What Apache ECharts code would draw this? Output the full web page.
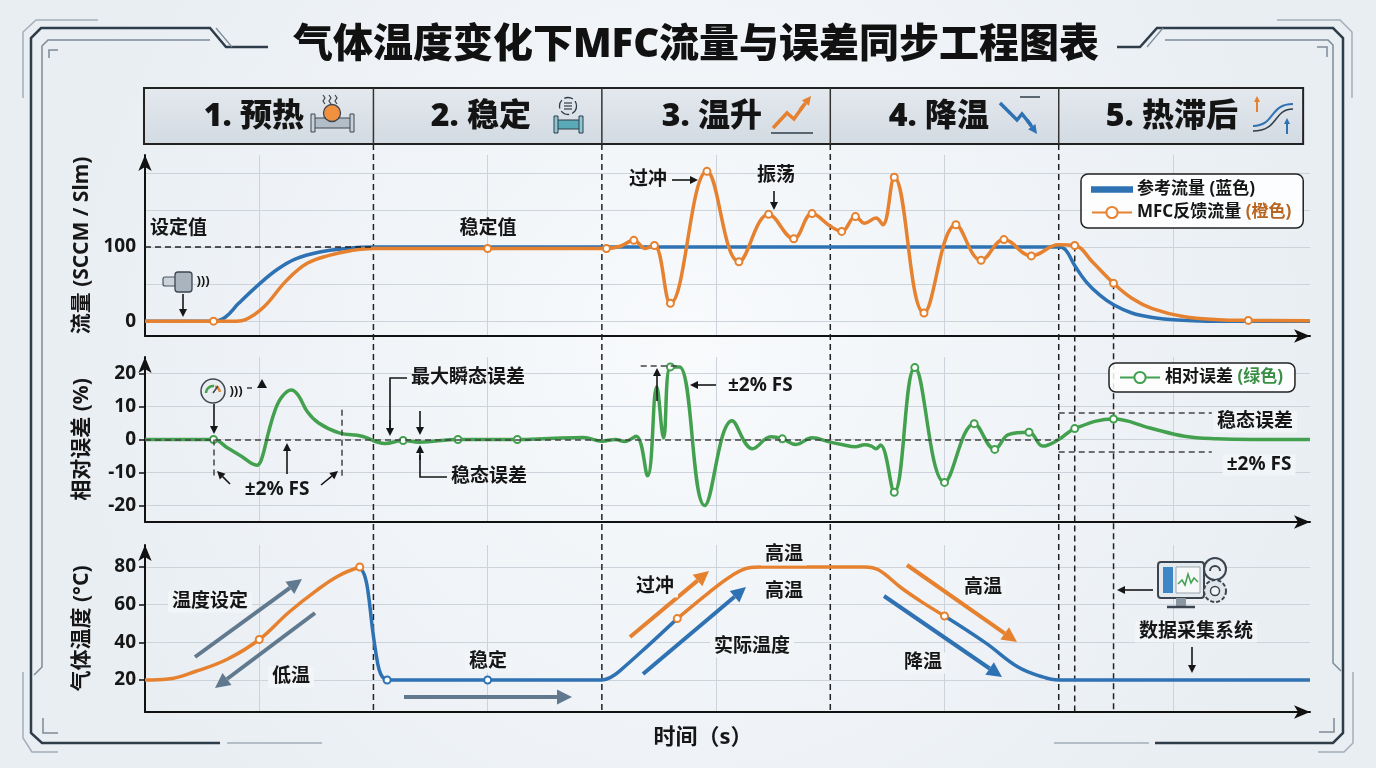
<!DOCTYPE html>
<html>
<head>
<meta charset="utf-8">
<title>气体温度变化下MFC流量与误差同步工程图表</title>
<script src="https://cdn.jsdelivr.net/npm/echarts@6/dist/echarts.min.js"></script>
<style>
  html, body { margin: 0; padding: 0; background: #f2f5f8; }
  #main { width: 1376px; height: 768px; }
</style>
</head>
<body>
<div id="main"></div>
<script>
// ---- data (time in s) ----
var phaseNames = ['1. 预热', '2. 稳定', '3. 温升', '4. 降温', '5. 热滞后'];
var phaseBounds = [100, 200, 300, 400];
var lagLines = [407, 424];
var timeGrid = [50, 150, 250, 350, 450];

var flowGridValues = [0, 50, 100, 150, 200];
var flowTickLabels = [0, 100];
var errTicks = [-20, -10, 0, 10, 20];
var tempTicks = [20, 40, 60, 80];

var refFlow = [[0, 0], [30, 0], [35, 5], [41, 24], [50, 50], [58, 70], [66, 84], [76, 93], [88, 98], [100, 100],
  [400, 100], [403, 96], [407, 75], [412, 53], [418, 35], [424, 22], [432, 11], [441, 5], [452, 1.5], [465, 0], [510, 0]];

var mfcFlow = [[0, 0], [30, 0], [40, 0], [44, 2], [52, 19], [62, 55], [71, 78], [81, 89], [90, 95], [100, 98],
  [150, 98], [202, 98], [208, 101], [214, 109], [219, 98], [223, 102], [230, 24], [246, 202], [260, 80],
  [273, 144], [284, 111], [292, 145], [300, 128], [305, 121], [311, 141], [315, 132], [320, 139], [323, 130],
  [328, 194], [341, 11], [355, 130], [366, 82], [376, 110], [388, 88], [400, 103], [407, 102], [415, 79],
  [424, 51], [432, 31], [441, 17], [455, 6], [470, 2], [483, 1], [510, 0.5]];
var mfcMarks = [30, 150, 202, 214, 223, 230, 246, 260, 273, 284, 292, 305, 311, 328, 341, 355, 366, 376, 388, 407, 424, 483];

var relError = [[0, 0], [30, 0], [36, -2.5], [42, -5], [49, -7.8], [51, -6], [54, 2], [57, 9], [60, 13], [64, 15],
  [67, 13.5], [71, 8.5], [76, 5], [85, 2], [95, 1], [105, -1.2], [113, -0.3], [120, -0.8], [137, 0], [163, 0],
  [177, 0.3], [192, 0.6], [200, -0.5], [206, 0], [210, -0.6], [215, 1], [220, -11], [224, 16], [227, 0.5],
  [230, 22], [234, 22], [245, -20], [257, 5.7], [266, -2.8], [274, 0.8], [279, 0.2], [285, -1.5], [292, 0.5],
  [300, -0.8], [305, -1.5], [311, -2.2], [315, -1.6], [318, -2], [320, -2.8], [322, -1.7], [328, -16],
  [337, 21.8], [350, -13], [363, 4.8], [372, -3], [378, 1.5], [387, 2.2], [393, -2], [400, 0], [407, 3.3],
  [424, 6.2], [440, 3.5], [455, 1], [469, 0.2], [485, 0], [510, 0]];
var errMarks = [30, 113, 137, 163, 230, 279, 328, 337, 350, 363, 372, 387, 407, 424];

var tempHeat1 = [[0, 20], [10, 20.5], [22, 24.5], [36, 31], [50, 41.5], [63, 56], [75, 67.5], [85, 75.5], [94, 80]];
var tempHold = [[94, 80], [96, 76], [97.5, 68], [99.6, 47], [101, 35], [102.5, 25.4], [104, 21.5], [106, 20],
  [150, 20], [200, 20], [204, 21.5], [208, 25], [220, 38], [233, 52.6]];
var tempHeat2 = [[233, 52.6], [247, 66.6], [257, 75.5], [264, 79.5], [270, 80], [315, 80], [321, 78.5], [331, 69],
  [340, 61.5], [350, 54]];
var tempCool = [[350, 54], [368, 39.7], [382, 27], [392, 22], [400, 20], [510, 20]];
var heat1Marks = [50, 94], holdMarks = [106, 150], heat2Marks = [233, 350];

// ---- styles ----
var FONT = '"Noto Sans", "Noto Sans CJK SC", sans-serif';
var BLUE = '#2f72b3', ORANGE = '#e5812f', GREEN = '#43a04f', SLATE = '#61798f', INK = '#161616';
var GRIDC = '#cdd3da', BG = '#f2f5f8';

var chart = echarts.init(document.getElementById('main'));

function withMarks(points, marks) {
  return points.map(function (p) {
    return { value: p, symbol: marks.indexOf(p[0]) >= 0 ? 'circle' : 'none' };
  });
}

function lineSeries(name, grid, points, color, marks) {
  return {
    name: name, type: 'line', xAxisIndex: grid, yAxisIndex: grid,
    data: marks ? withMarks(points, marks) : points,
    smooth: 0.4, showSymbol: true,
    symbol: marks ? 'circle' : 'none', symbolSize: 7,
    color: color,
    lineStyle: { color: color, width: 3.5 },
    itemStyle: { color: '#fff', borderColor: color, borderWidth: 2 },
    emphasis: { disabled: true },
    z: 3
  };
}

function dashed(pairs, color) {
  return {
    silent: true, symbol: ['none', 'none'], label: { show: false },
    lineStyle: { type: [6, 4], color: color || '#333', width: 1.5 },
    data: pairs.map(function (p) { return [{ coord: p[0] }, { coord: p[1] }]; })
  };
}

function yAx(i, min, max, gridVals, labels, name, showTick) {
  return {
    type: 'value', gridIndex: i, min: min, max: max,
    name: name, nameLocation: 'middle', nameRotate: 90, nameGap: 52,
    nameTextStyle: { fontSize: 21, fontWeight: 'bold', color: INK, fontFamily: FONT },
    axisLine: { onZero: false, show: true, lineStyle: { color: '#111', width: 2 }, symbol: ['none', 'arrow'], symbolSize: [10, 16] },
    axisTick: { show: showTick, length: 6, customValues: gridVals, lineStyle: { color: '#111', width: 1.5 } },
    axisLabel: { customValues: labels, fontSize: 19, fontWeight: 'bold', color: INK, fontFamily: FONT, margin: 9 },
    splitLine: { show: true, lineStyle: { color: GRIDC, width: 1 } }
  };
}

var flowRef = lineSeries('参考流量', 0, refFlow, BLUE);
flowRef.markLine = dashed([[[0, 100], [100, 100]]], '#222');
var flowMfc = lineSeries('MFC反馈流量', 0, mfcFlow, ORANGE, mfcMarks);
var errLine = lineSeries('相对误差', 1, relError, GREEN, errMarks);
errLine.markLine = dashed([
  [[0, 0], [400, 0]],
  [[30, 0], [30, -11.5]], [[86, 9], [86, -11.5]],
  [[217, 22.3], [234, 22.3]],
  [[400, 8.2], [467, 8.2]], [[400, -3.6], [467, -3.6]]
], '#444');

var legendBox = {
  orient: 'vertical', itemWidth: 40, itemHeight: 14, itemGap: 6,
  backgroundColor: 'rgba(255,255,255,0.85)', borderColor: '#222', borderWidth: 1.5, borderRadius: 7,
  selectedMode: false, symbolKeepAspect: true
};

var option = {
  animation: false,
  backgroundColor: {
    type: 'radial', x: 0.5, y: 0.45, r: 0.85,
    colorStops: [{ offset: 0, color: '#f8fafc' }, { offset: 1, color: '#e9eef3' }]
  },
  textStyle: { fontFamily: FONT },
  grid: [
    { left: 145, right: 66, top: 155, height: 181 },
    { left: 145, right: 66, top: 357, height: 165 },
    { left: 145, right: 66, top: 545, height: 167 }
  ],
  xAxis: [0, 1, 2].map(function (i) {
    return {
      type: 'value', gridIndex: i, min: 0, max: 510,
      axisLine: { onZero: false, show: true, lineStyle: { color: '#111', width: 2 }, symbol: ['none', 'arrow'], symbolSize: [10, 16] },
      axisTick: { show: false, customValues: timeGrid },
      axisLabel: { show: false },
      splitLine: { show: true, lineStyle: { color: GRIDC, width: 1 } }
    };
  }),
  yAxis: [
    yAx(0, -20, 224, flowGridValues, flowTickLabels, '流量 (SCCM / Slm)', false),
    yAx(1, -25, 25, errTicks, errTicks, '相对误差 (%)', true),
    yAx(2, 3, 91.7, tempTicks, tempTicks, '气体温度 (°C)', true)
  ],
  legend: [
    echarts.util.extend({
      data: [
        { name: '参考流量', icon: 'path://M0,0 L40,0 L40,4.5 L0,4.5 Z', itemStyle: { color: BLUE } },
        { name: 'MFC反馈流量' }
      ],
      left: 1081, top: 174, padding: [7, 12, 7, 10],
      formatter: function (n) { return n === '参考流量' ? '参考流量 (蓝色)' : 'MFC反馈流量 {o|(橙色)}'; },
      textStyle: { fontSize: 17, fontWeight: 'bold', color: INK, fontFamily: FONT,
        rich: { o: { fontSize: 17, fontWeight: 'bold', color: '#b8651f', fontFamily: FONT } } }
    }, legendBox),
    echarts.util.extend({
      data: ['相对误差'], left: 1109, top: 363, padding: [6, 12, 6, 10],
      formatter: function () { return '相对误差 {g|(绿色)}'; },
      textStyle: { fontSize: 17, fontWeight: 'bold', color: INK, fontFamily: FONT,
        rich: { g: { fontSize: 17, fontWeight: 'bold', color: '#3b8f45', fontFamily: FONT } } }
    }, legendBox)
  ],
  series: [
    flowRef, flowMfc, errLine,
    lineSeries('温度-预热', 2, tempHeat1, ORANGE, heat1Marks),
    lineSeries('温度-稳定', 2, tempHold, BLUE, holdMarks),
    lineSeries('温度-温升', 2, tempHeat2, ORANGE, heat2Marks),
    lineSeries('温度-降温', 2, tempCool, BLUE)
  ]
};
chart.setOption(option);

// ---- decorations placed after the axes exist ----
var g = [];
function tx(t) { return chart.convertToPixel({ xAxisIndex: 0 }, t); }
function fy(v) { return chart.convertToPixel({ yAxisIndex: 0 }, v); }
function flowAt(t) {
  for (var i = 0; i < mfcFlow.length; i++) if (mfcFlow[i][0] === t) return mfcFlow[i][1];
  return 100;
}

function pl(points, stroke, w, dash, z) {
  g.push({ type: 'polyline', silent: true, z: z || 5, shape: { points: points },
    style: { stroke: stroke, lineWidth: w, lineDash: dash || null, fill: null } });
}
function arrow(x1, y1, x2, y2, color, w, head, z) {
  var a = Math.atan2(y2 - y1, x2 - x1);
  var hx = x2 - head * Math.cos(a), hy = y2 - head * Math.sin(a);
  var px = Math.sin(a) * head * 0.5, py = -Math.cos(a) * head * 0.5;
  g.push({ type: 'line', silent: true, z: z || 50, shape: { x1: x1, y1: y1, x2: hx, y2: hy },
    style: { stroke: color, lineWidth: w } });
  g.push({ type: 'polygon', silent: true, z: z || 50, shape: { points: [[x2, y2], [hx + px, hy + py], [hx - px, hy - py]] },
    style: { fill: color } });
}
function label(x, y, text, size, align, bg) {
  g.push({ type: 'text', silent: true, z: 60, x: x, y: y,
    style: { text: text, fontSize: size || 19, fontWeight: 'bold', fontFamily: FONT, fill: INK,
      align: align || 'center', verticalAlign: 'middle',
      backgroundColor: bg ? BG : null, padding: bg ? [1, 4] : 0 } });
}

// frame
var DARK = '#2f3d4a', MID = '#7d8b98', LIGHT = '#a3aeb9';
pl([[268, 47], [226, 47], [210, 28], [41, 28], [31, 38], [31, 733], [42, 743], [220, 743]], DARK, 2.5);
pl([[232, 47], [216, 28]], MID, 1.2);
pl([[210, 40], [48, 40], [42, 46], [42, 667], [34, 675]], MID, 1.5);
pl([[23, 98], [23, 32], [36, 20], [98, 20]], LIGHT, 1.5);
pl([[23, 672], [23, 738], [32, 752], [58, 752]], LIGHT, 1.5);
pl([[49, 58], [49, 50], [58, 50]], MID, 1.5);
pl([[43, 718], [43, 733], [58, 733]], MID, 1.5);
pl([[227, 743], [322, 743]], LIGHT, 1.5);
pl([[1117, 47], [1140, 47], [1157, 28], [1333, 28], [1343, 38], [1343, 733], [1333, 743], [1155, 743]], DARK, 2.5);
pl([[1147, 47], [1163, 28]], MID, 1.2);
pl([[1165, 40], [1328, 40], [1333, 45], [1333, 663], [1341, 671]], MID, 1.5);
pl([[1277, 20], [1340, 20], [1352, 32], [1352, 98]], LIGHT, 1.5);
pl([[1353, 672], [1353, 743], [1344, 752], [1318, 752]], LIGHT, 1.5);
pl([[1317, 47], [1327, 47], [1327, 57]], MID, 1.5);
pl([[1334, 718], [1334, 732], [1319, 732]], MID, 1.5);
pl([[1054, 743], [1149, 743]], LIGHT, 1.5);

// title
g.push({ type: 'text', silent: true, z: 60, x: 696, y: 46,
  style: { text: '气体温度变化下MFC流量与误差同步工程图表', fontSize: 40, fontWeight: 900, fontFamily: FONT,
    fill: '#111', align: 'center', verticalAlign: 'middle' } });

// phase header band
var bandL = tx(0) - 1, bandR = tx(507), bandT = 88, bandB = 144;
g.push({ type: 'rect', silent: true, z: 4, shape: { x: bandL, y: bandT, width: bandR - bandL, height: bandB - bandT },
  style: { fill: { type: 'linear', x: 0, y: 0, x2: 0, y2: 1, colorStops: [{ offset: 0, color: '#e4e9ee' }, { offset: 1, color: '#d2dae2' }] },
    stroke: '#222', lineWidth: 2 } });
phaseBounds.forEach(function (t) {
  pl([[tx(t), bandT], [tx(t), bandB]], '#333', 1.5, null, 6);
  pl([[tx(t), bandB], [tx(t), 712]], '#222', 1.5, [6, 4], 1);
});
var headRight = [304, 531, 762, 989, 1238];
phaseNames.forEach(function (n, i) {
  g.push({ type: 'text', silent: true, z: 60, x: headRight[i], y: 117,
    style: { text: n, fontSize: 32, fontWeight: 900, fontFamily: FONT, fill: '#141414', align: 'right', verticalAlign: 'middle' } });
});

// header icons
// 1 preheat: pipe + heater + steam
g.push({ type: 'rect', silent: true, z: 60, shape: { x: 313, y: 118, width: 39, height: 10 }, style: { fill: '#b3bdc7', stroke: '#3d4650', lineWidth: 1.2 } });
g.push({ type: 'rect', silent: true, z: 60, shape: { x: 311, y: 114, width: 4, height: 18 }, style: { fill: '#c9d1d8', stroke: '#3d4650', lineWidth: 1 } });
g.push({ type: 'rect', silent: true, z: 60, shape: { x: 350, y: 114, width: 4, height: 18 }, style: { fill: '#c9d1d8', stroke: '#3d4650', lineWidth: 1 } });
g.push({ type: 'circle', silent: true, z: 61, shape: { cx: 332, cy: 113, r: 8.5 }, style: { fill: '#f0913f', stroke: '#3d4650', lineWidth: 1.3 } });
[325, 331, 337].forEach(function (x) {
  pl([[x, 104], [x - 2, 101], [x, 98], [x - 2, 95]], '#3d4650', 1.2, null, 60);
});
// 2 stable: pipe + circulating arrows
g.push({ type: 'rect', silent: true, z: 60, shape: { x: 557, y: 120, width: 23, height: 9 }, style: { fill: '#5aaab8', stroke: '#2f3d4a', lineWidth: 1.2 } });
g.push({ type: 'rect', silent: true, z: 60, shape: { x: 554, y: 116, width: 4, height: 17 }, style: { fill: '#8fc8d2', stroke: '#2f3d4a', lineWidth: 1 } });
g.push({ type: 'rect', silent: true, z: 60, shape: { x: 579, y: 116, width: 4, height: 17 }, style: { fill: '#8fc8d2', stroke: '#2f3d4a', lineWidth: 1 } });
g.push({ type: 'circle', silent: true, z: 60, shape: { cx: 568, cy: 106, r: 8.5 }, style: { fill: null, stroke: '#2f3d4a', lineWidth: 1.3, lineDash: [9, 3] } });
[103, 106, 109].forEach(function (y) { pl([[564, y], [572, y]], '#2f3d4a', 1.2, null, 60); });
// 3 temperature rise
pl([[771, 133], [813, 133]], '#2f3d4a', 1.5, null, 60);
pl([[773, 128], [787, 113], [794, 119], [804, 105]], ORANGE, 3.5, null, 60);
arrow(800, 110, 811, 96, ORANGE, 3.5, 9, 61);
// 4 cooling
pl([[1020, 97], [1040, 97]], '#2f3d4a', 1.5, null, 60);
pl([[1000, 103], [1017, 120], [1022, 114], [1031, 125]], BLUE, 3.5, null, 60);
arrow(1027, 120, 1037, 134, BLUE, 3.5, 9, 61);
// 5 thermal lag
g.push({ type: 'bezierCurve', silent: true, z: 60, shape: { x1: 1253, y1: 126, cpx1: 1275, cpy1: 126, cpx2: 1269, cpy2: 104, x2: 1293, y2: 104 }, style: { stroke: BLUE, lineWidth: 2, fill: null } });
g.push({ type: 'bezierCurve', silent: true, z: 60, shape: { x1: 1253, y1: 131, cpx1: 1279, cpy1: 131, cpx2: 1273, cpy2: 109, x2: 1293, y2: 109 }, style: { stroke: '#2f3d4a', lineWidth: 1.5, fill: null } });
arrow(1257, 112, 1257, 96, ORANGE, 2, 6, 61);
arrow(1287, 134, 1287, 118, BLUE, 2, 6, 61);

// lag markers in phase 5
lagLines.forEach(function (t) {
  pl([[tx(t), fy(flowAt(t))], [tx(t), 712]], '#222', 1.5, [6, 4], 1);
});

// panel 1 notes
label(150, 229, '设定值', 19, 'left');
label(488, 229, '稳定值');
label(648, 180, '过冲');
arrow(672, 180, 698, 180, INK, 1.6, 8);
label(776, 176, '振荡');
arrow(774, 191, 774, 210, INK, 1.6, 8);
g.push({ type: 'rect', silent: true, z: 60, shape: { x: 163, y: 277, width: 13, height: 9, r: 2 }, style: { fill: '#ccd3da', stroke: '#4a5560', lineWidth: 1.2 } });
g.push({ type: 'rect', silent: true, z: 60, shape: { x: 175, y: 272, width: 17, height: 20, r: 3 }, style: { fill: '#a9b4bf', stroke: '#3d4650', lineWidth: 1.3 } });
label(203, 281, ')))', 13, 'center');
arrow(183, 294, 183, 317, INK, 1.6, 8);

// panel 2 notes
g.push({ type: 'circle', silent: true, z: 60, shape: { cx: 213, cy: 391, r: 12 }, style: { fill: '#e9edf0', stroke: '#3d4650', lineWidth: 1.5 } });
g.push({ type: 'arc', silent: true, z: 61, shape: { cx: 213, cy: 393, r: 7, startAngle: Math.PI, endAngle: Math.PI * 1.55 }, style: { stroke: GREEN, lineWidth: 2.5, fill: null } });
g.push({ type: 'arc', silent: true, z: 61, shape: { cx: 213, cy: 393, r: 7, startAngle: Math.PI * 1.6, endAngle: Math.PI * 1.95 }, style: { stroke: ORANGE, lineWidth: 2.5, fill: null } });
pl([[213, 393], [218, 386]], '#3d4650', 1.5, null, 62);
label(236, 391, ')))', 13, 'center');
pl([[247, 388], [252, 388]], INK, 1.2, null, 60);
g.push({ type: 'polygon', silent: true, z: 60, shape: { points: [[262, 379], [257, 388], [267, 388]] }, style: { fill: INK } });
arrow(214, 404, 214, 434, INK, 1.6, 8);
arrow(230, 484, 217, 471, INK, 1.6, 8);
label(277, 490, '±2% FS');
arrow(321, 485, 338, 471, INK, 1.6, 8);
arrow(287, 474, 287, 443, INK, 1.6, 8);
label(411, 378, '最大瞬态误差', 19, 'left');
pl([[407, 378], [390, 378], [390, 428]], INK, 1.6, null, 50);
arrow(390, 420, 390, 436, INK, 1.6, 8);
arrow(420, 411, 420, 435, INK, 1.6, 8);
label(451, 477, '稳态误差', 19, 'left');
pl([[447, 477], [420, 477], [420, 455]], INK, 1.6, null, 50);
arrow(420, 460, 420, 445, INK, 1.6, 8);
arrow(657, 401, 657, 368, INK, 1.6, 8);
arrow(716, 385, 690, 385, INK, 1.6, 8);
label(728, 386, '±2% FS', 19, 'left');
label(1255, 422, '稳态误差', 19, 'center', true);
label(1259, 465, '±2% FS', 19, 'center', true);

// panel 3 notes
arrow(195, 657, 302, 579, SLATE, 4, 15);
arrow(315, 613, 215, 688, SLATE, 4, 15);
label(210, 602, '温度设定', 19, 'center', true);
label(291, 677, '低温', 19, 'center', true);
label(488, 662, '稳定', 19, 'center', true);
arrow(404, 697, 572, 697, SLATE, 4, 15);
label(655, 587, '过冲', 19, 'center', true);
arrow(630, 637, 709, 571, ORANGE, 4, 15);
arrow(643, 674, 746, 587, BLUE, 4, 15);
label(784, 555, '高温', 19, 'center', true);
label(784, 592, '高温', 19, 'center', true);
label(752, 647, '实际温度', 19, 'center', true);
arrow(907, 565, 1017, 642, ORANGE, 4, 15);
arrow(884, 596, 1002, 677, BLUE, 4, 15);
label(983, 588, '高温', 19, 'center', true);
label(923, 663, '降温', 19, 'center', true);
// data acquisition system icon
g.push({ type: 'rect', silent: true, z: 60, shape: { x: 1158, y: 562, width: 46, height: 36, r: 3 }, style: { fill: '#e4e9ee', stroke: '#3a4550', lineWidth: 2 } });
g.push({ type: 'rect', silent: true, z: 61, shape: { x: 1163, y: 567, width: 10, height: 26 }, style: { fill: '#3f86c6' } });
g.push({ type: 'rect', silent: true, z: 61, shape: { x: 1176, y: 567, width: 24, height: 26 }, style: { fill: '#f6f8fa', stroke: '#9aa5b0', lineWidth: 1 } });
pl([[1178, 584], [1182, 580], [1185, 585], [1188, 574], [1191, 583], [1194, 578], [1198, 582]], GREEN, 1.5, null, 62);
g.push({ type: 'rect', silent: true, z: 60, shape: { x: 1176, y: 598, width: 10, height: 8 }, style: { fill: '#8a96a2' } });
pl([[1167, 607], [1195, 607]], '#3a4550', 2.5, null, 60);
g.push({ type: 'circle', silent: true, z: 60, shape: { cx: 1215, cy: 569, r: 11 }, style: { fill: '#e9eef3', stroke: '#3a4550', lineWidth: 2 } });
g.push({ type: 'arc', silent: true, z: 61, shape: { cx: 1215, cy: 571, r: 5, startAngle: Math.PI, endAngle: 0 }, style: { stroke: '#3a4550', lineWidth: 2, fill: null } });
g.push({ type: 'circle', silent: true, z: 62, shape: { cx: 1215, cy: 591, r: 11 }, style: { fill: '#dfe5eb', stroke: '#3a4550', lineWidth: 2, lineDash: [4, 2] } });
g.push({ type: 'circle', silent: true, z: 63, shape: { cx: 1215, cy: 591, r: 4.5 }, style: { fill: '#f2f5f8', stroke: '#3a4550', lineWidth: 1.5 } });
arrow(1153, 590, 1117, 590, INK, 1.6, 8);
label(1196, 632, '数据采集系统', 19, 'center', true);
arrow(1192, 647, 1192, 673, INK, 1.6, 8);

// x axis name
label(703, 738, '时间（s）', 22, 'center');

chart.setOption({ graphic: { elements: g } });
</script>
</body>
</html>
